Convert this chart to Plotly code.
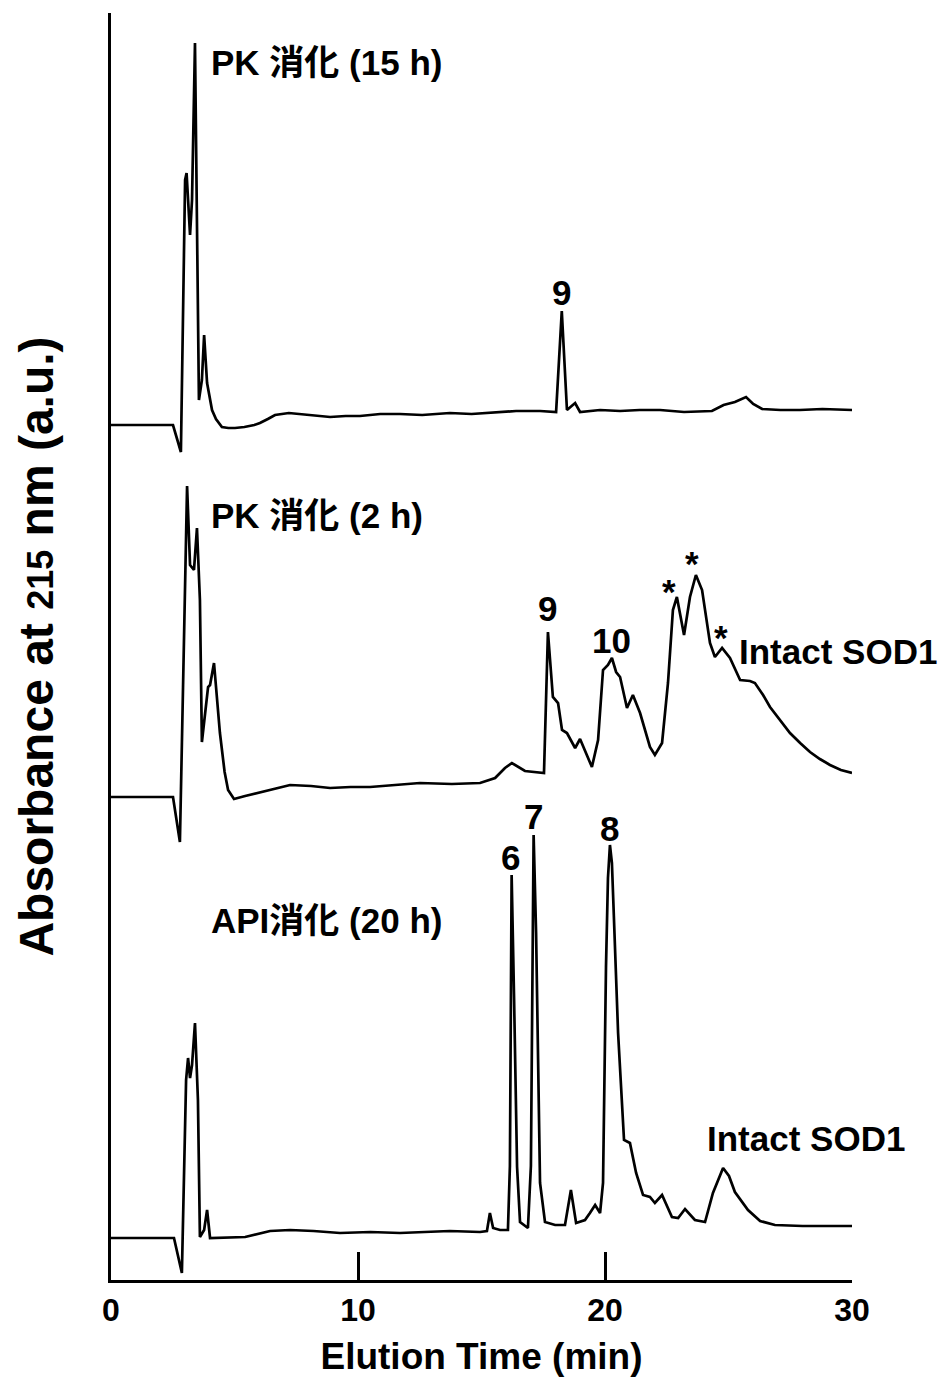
import plotly.graph_objects as go

# Elution time (min) and absorbance relative to each run's baseline (a.u.)
t_pk15 = [0.00, 2.51, 2.83, 2.91, 3.00, 3.06, 3.20, 3.28, 3.40, 3.56, 3.68, 3.77, 3.89,
          4.09, 4.25, 4.49, 4.75, 5.02, 5.40, 5.80, 6.03, 6.35, 6.64, 7.20, 7.65, 8.30,
          8.87, 9.50, 10.08, 10.90, 11.70, 12.60, 13.72, 14.60, 15.75, 16.40, 17.37,
          18.02, 18.25, 18.46, 18.79, 18.99, 19.80, 20.61, 21.40, 22.23, 23.20, 24.33,
          24.80, 25.26, 25.71, 26.00, 26.36, 27.10, 27.89, 28.80, 30.00]
a_pk15 = [0.00, 0.00, -0.27, 1.25, 2.45, 2.52, 1.90, 2.25, 3.82, 0.25, 0.45, 0.90, 0.42,
          0.15, 0.06, -0.02, -0.03, -0.03, -0.02, 0.00, 0.02, 0.06, 0.10, 0.12, 0.11, 0.10,
          0.08, 0.09, 0.09, 0.11, 0.11, 0.10, 0.12, 0.11, 0.13, 0.14, 0.14,
          0.13, 1.14, 0.15, 0.22, 0.13, 0.15, 0.14, 0.15, 0.15, 0.13, 0.14,
          0.20, 0.23, 0.28, 0.21, 0.16, 0.15, 0.15, 0.16, 0.15]

t_pk2 = [0.00, 2.51, 2.79, 2.91, 3.08, 3.20, 3.36, 3.48, 3.60, 3.68, 3.93, 4.01, 4.17,
         4.41, 4.60, 4.74, 4.98, 5.43, 5.90, 6.44, 6.90, 7.25, 8.10, 8.87, 9.70, 10.49,
         11.50, 12.51, 13.80, 14.94, 15.55, 15.95, 16.23, 16.76, 17.53, 17.69, 17.89,
         18.10, 18.26, 18.46, 18.79, 18.99, 19.47, 19.72, 19.92, 20.12, 20.28, 20.45,
         20.61, 20.89, 21.13, 21.42, 21.82, 22.02, 22.31, 22.55, 22.75, 22.91, 23.20,
         23.44, 23.68, 23.93, 24.25, 24.45, 24.74, 25.06, 25.47, 25.87, 26.07, 26.40,
         26.68, 27.10, 27.49, 27.90, 28.30, 28.70, 29.11, 29.55, 30.00]
a_pk2 = [0.00, 0.00, -0.45, 0.97, 3.11, 2.32, 2.27, 2.69, 1.97, 0.55, 1.10, 1.12, 1.34,
         0.64, 0.25, 0.07, -0.02, 0.01, 0.04, 0.07, 0.10, 0.12, 0.11, 0.09, 0.10, 0.10,
         0.12, 0.14, 0.13, 0.14, 0.19, 0.29, 0.34, 0.26, 0.24, 1.65, 1.00,
         0.94, 0.67, 0.64, 0.49, 0.58, 0.30, 0.57, 1.27, 1.32, 1.39, 1.25,
         1.20, 0.89, 1.02, 0.84, 0.50, 0.42, 0.54, 1.14, 1.87, 2.00, 1.62,
         2.00, 2.22, 2.07, 1.54, 1.40, 1.49, 1.39, 1.17, 1.16, 1.14, 1.02,
         0.90, 0.76, 0.64, 0.54, 0.45, 0.38, 0.32, 0.27, 0.24]

t_api20 = [0.00, 2.55, 2.87, 3.04, 3.12, 3.20, 3.28, 3.40, 3.52, 3.60, 3.77, 3.89, 4.01,
           5.43, 6.44, 7.25, 8.20, 9.27, 10.50, 11.70, 12.70, 13.72, 14.94, 15.22, 15.34,
           15.47, 15.75, 16.07, 16.15, 16.22, 16.32, 16.44, 16.56, 16.88, 17.00, 17.11,
           17.21, 17.37, 17.57, 17.98, 18.38, 18.62, 18.83, 19.19, 19.39, 19.60, 19.80,
           19.92, 20.04, 20.12, 20.20, 20.28, 20.36, 20.53, 20.77, 21.01, 21.26, 21.54,
           21.82, 22.02, 22.31, 22.71, 22.96, 23.24, 23.64, 24.05, 24.37, 24.78, 25.02,
           25.26, 25.79, 26.28, 26.88, 28.00, 30.00]
a_api20 = [0.00, 0.00, -0.35, 1.58, 1.80, 1.60, 1.73, 2.15, 1.38, 0.01, 0.08, 0.28, 0.00,
           0.01, 0.07, 0.08, 0.07, 0.05, 0.06, 0.05, 0.06, 0.07, 0.06, 0.07, 0.25,
           0.10, 0.08, 0.08, 0.72, 3.63, 2.38, 0.71, 0.16, 0.10, 0.72, 4.03,
           3.05, 0.55, 0.16, 0.13, 0.13, 0.48, 0.15, 0.18, 0.25, 0.33, 0.25,
           0.55, 2.71, 3.60, 3.93, 3.75, 3.21, 2.05, 0.98, 0.95, 0.65, 0.43,
           0.41, 0.35, 0.43, 0.21, 0.20, 0.29, 0.18, 0.16, 0.45, 0.70, 0.62,
           0.46, 0.28, 0.17, 0.13, 0.12, 0.12]

# vertical stacking offsets of the three chromatograms (a.u.)
offset_pk15 = 8.55
offset_pk2 = 4.83
offset_api20 = 0.42

run_titles = ["PK 消化 (15 h)", "PK 消化 (2 h)", "API消化 (20 h)"]

# peak annotations: (text, time, absorbance position)
peak_labels = [
    ("9", 18.25, 9.88),
    ("9", 17.69, 6.72),
    ("10", 20.28, 6.40),
    ("*", 22.60, 6.89),
    ("*", 23.53, 7.17),
    ("*", 24.70, 6.43),
    ("6", 16.19, 4.23),
    ("7", 17.09, 4.64),
    ("8", 20.20, 4.52),
]
intact_labels = [("Intact SOD1", 25.34, 6.29), ("Intact SOD1", 24.05, 1.42)]
title_pos = [(3.98, 12.18), (3.98, 7.65), (3.98, 3.60)]

FONT = "Liberation Sans, Arial, Noto Sans CJK JP, sans-serif"
LABEL_SIZE = 35

fig = go.Figure()
for t, a, off in [(t_pk15, a_pk15, offset_pk15),
                  (t_pk2, a_pk2, offset_pk2),
                  (t_api20, a_api20, offset_api20)]:
    fig.add_trace(go.Scatter(
        x=t, y=[v + off for v in a], mode="lines",
        line=dict(color="black", width=2.7), showlegend=False, hoverinfo="skip"))

label_font = dict(family=FONT, size=LABEL_SIZE, color="black", weight="bold")
annotations = []
for text, (x, y) in zip(run_titles, title_pos):
    annotations.append(dict(x=x, y=y, text=text, showarrow=False, xanchor="left",
                            yanchor="middle", font=label_font))
for text, x, y in peak_labels:
    annotations.append(dict(x=x, y=y, text=text, showarrow=False, xanchor="center",
                            yanchor="middle", font=label_font))
for text, x, y in intact_labels:
    annotations.append(dict(x=x, y=y, text=text, showarrow=False, xanchor="left",
                            yanchor="middle", font=label_font))

fig.update_layout(
    width=949, height=1378,
    margin=dict(l=111, r=97, t=13, b=98),
    paper_bgcolor="white", plot_bgcolor="white",
    font=dict(family=FONT, color="black"),
    annotations=annotations,
    xaxis=dict(
        range=[0, 30], tickvals=[0, 10, 20, 30], ticks="inside", ticklen=28,
        tickwidth=3, tickcolor="black", showline=True, linewidth=3, linecolor="black",
        showgrid=False, zeroline=False, automargin=False,
        tickfont=dict(family=FONT, size=32, color="black", weight="bold"),
        title=dict(text="Elution Time (min)", standoff=16,
                   font=dict(family=FONT, size=37, color="black", weight="bold")),
    ),
    yaxis=dict(
        range=[0, 12.67], showticklabels=False, ticks="", showline=True, linewidth=3,
        linecolor="black", showgrid=False, zeroline=False, automargin=False,
        title=dict(text="Absorbance at <span style='font-size:36px'>215</span> nm (a.u.)",
                   standoff=40,
                   font=dict(family=FONT, size=48, color="black", weight="bold")),
    ),
)

fig.write_html("out.html")
